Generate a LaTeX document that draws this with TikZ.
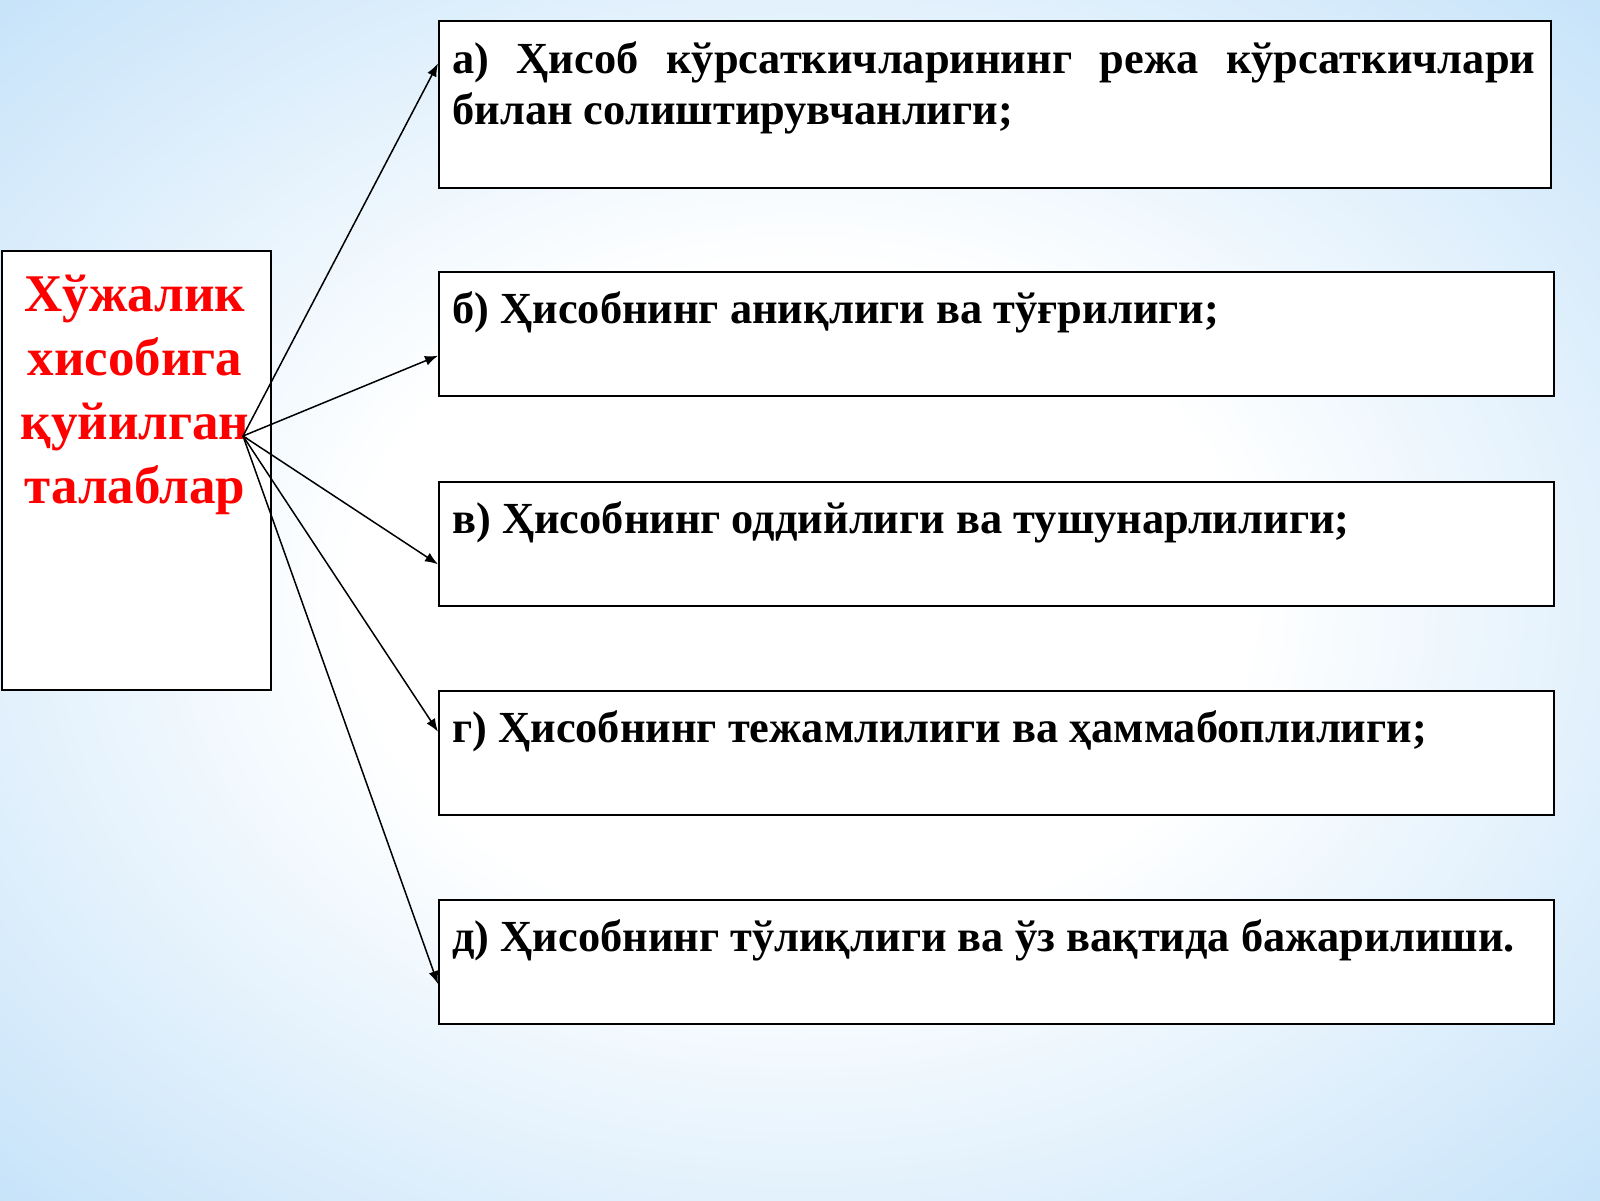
\documentclass[tikz,border=0pt]{standalone}
\usepackage{fontspec}
\setmainfont{Liberation Serif}
\usetikzlibrary{arrows.meta,calc}
\definecolor{bgblue}{RGB}{166,211,246}
\pgfdeclareradialshading{slidebg}{\pgfpoint{0bp}{0bp}}{color(0bp)=(white); color(14bp)=(white); color(48bp)=(bgblue); color(80bp)=(bgblue)}
\begin{document}
\begin{tikzpicture}[x=0.5pt,y=0.5pt,yscale=-1,
    card/.style={draw=black,line width=1pt,fill=white,anchor=north west,minimum width=557.5pt,minimum height=62pt,inner sep=0pt},
    cardtext/.style={anchor=base west,inner sep=0pt,font=\bfseries\fontsize{22.2}{25.5}\selectfont},
    link/.style={line width=0.75pt,-{Latex[length=6.5pt,width=5pt]}}]
        \shade [shading=slidebg] (0,0) rectangle (1600,1200);
        \useasboundingbox (0,0) rectangle (1600,1200);
        \node [draw=black,line width=0.8pt,fill=white,anchor=north west,minimum width=134.5pt,minimum height=219.5pt,inner sep=0pt] (goal) at (1,250) {};
        \node [card,minimum width=556pt,minimum height=83.5pt] (a) at (438,20) {};
        \node [card] (b) at (438,271) {};
        \node [card] (c) at (438,481) {};
        \node [card] (d) at (438,690) {};
        \node [card] (e) at (438,899) {};
        \node [anchor=base,align=center,inner sep=0pt,text=red,font=\bfseries\fontsize{26.5}{32}\selectfont] (goaltext) at (135,503) {Хўжалик\\хисобига\\қуйилган\\талаблар};
        \node [cardtext,text width=541.5pt,align=justify] (ta) at (452,73.5) {а) Ҳисоб кўрсаткичларининг режа кўрсаткичлари билан солиштирувчанлиги;};
        \node [cardtext] (tb) at (452,323.5) {б) Ҳисобнинг аниқлиги ва тўғрилиги;};
        \node [cardtext] (tc) at (452,533) {в) Ҳисобнинг оддийлиги ва тушунарлилиги;};
        \node [cardtext] (td) at (452,742) {г) Ҳисобнинг тежамлилиги ва ҳаммабоплилиги;};
        \node [cardtext] (te) at (452,951) {д) Ҳисобнинг тўлиқлиги ва ўз вақтида бажарилиши.};
        \coordinate (hub) at (243,436);
        \draw [link] (hub) -- ($(a.north west)!0.257!(a.south west)$);
        \draw [link] (hub) -- ($(b.north west)!0.672!(b.south west)$);
        \draw [link] (hub) -- ($(c.north west)!0.661!(c.south west)$);
        \draw [link] (hub) -- ($(d.north west)!0.331!(d.south west)$);
        \draw [link] (hub) -- ($(e.north west)!0.675!(e.south west)$);
\end{tikzpicture}
\end{document}
